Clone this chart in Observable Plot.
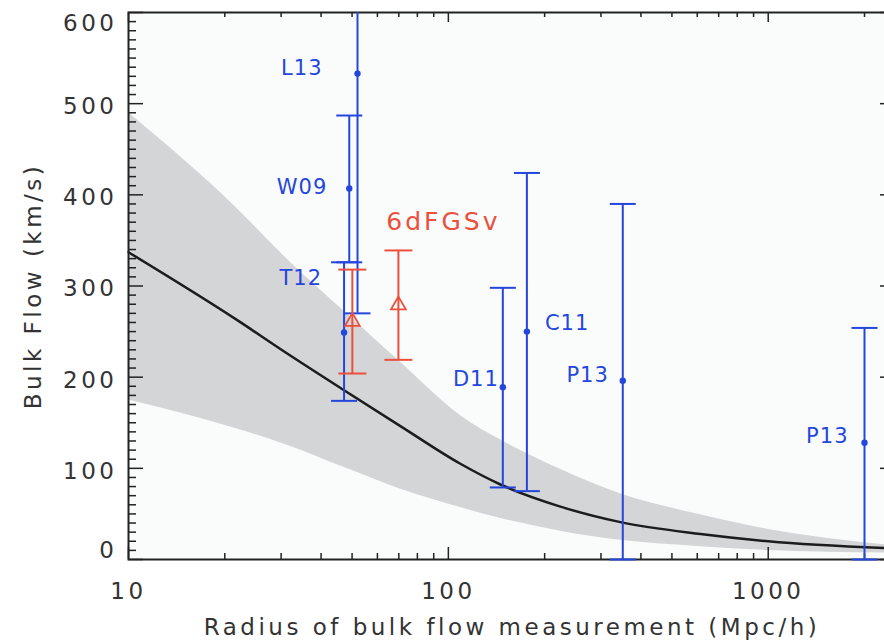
<!DOCTYPE html>
<html><head><meta charset="utf-8">
<script src="https://cdn.jsdelivr.net/npm/d3@7"></script>
<script src="https://cdn.jsdelivr.net/npm/@observablehq/plot@0.6"></script>
<style>
html,body{margin:0;padding:0;background:#fff;overflow:hidden;}
#chart svg{overflow:hidden;}
#chart g[font-size="23"] text{letter-spacing:3.5px;}
#chart g[font-size="21"] text{letter-spacing:1px;}
#chart g[font-size="25"] text{letter-spacing:3px;}
</style></head><body><div id="chart"></div>
<script>
// ΛCDM expectation (median and 1-sigma cosmic-variance band)
const bandR   = [10, 22, 31, 48, 71, 109, 146, 224, 345, 614, 1000, 2500];
const bandLo  = [175, 143, 126, 100, 77, 57, 45, 31, 21, 14, 10, 7];
const bandMid = [337, 262, 227, 184, 146, 105, 82, 58, 41, 28, 20, 12];
const bandHi  = [490, 384, 331, 270, 216, 158, 131, 99, 72, 49, 33, 15];

// literature bulk-flow measurements
const litName = ["L13", "W09", "T12", "D11", "C11", "P13", "P13"];
const litR    = [52, 49, 47.2, 148, 176, 351, 2000];
const litV    = [533, 407, 249, 189, 250, 196, 128];
const litLo   = [270, 326, 174, 79, 75, 0, 0];
const litHi   = [796, 487, 326, 298, 424, 390, 254];

// 6dFGSv measurements
const sixName = "6dFGSv";
const sixR  = [50.1, 69.8];
const sixV  = [261, 279];
const sixLo = [204, 219];
const sixHi = [318, 339];

// axes
const yTicks = [0, 100, 200, 300, 400, 500, 600];
const xTicks = [10, 100, 1000];
const xTitle = "Radius of bulk flow measurement (Mpc/h)";
const yTitle = "Bulk Flow (km/s)";

// ---- styles / layout ----
const BLUE = "#2446dc", RED = "#ec4f3c", INK = "#222";
const W = 884, H = 644, mL = 128, mR = -11, mT = 12, mB = 85;
const fw = W - mL - mR, fh = H - mT - mB;
// label offsets (px) per literature label, in litName order
const labelStyle = [
  {dx: -35, dy: -5, anchor: "end"},
  {dx: -22, dy: -1, anchor: "end"},
  {dx: -22, dy: -54, anchor: "end"},
  {dx: -4, dy: -8, anchor: "end"},
  {dx: 18, dy: -8, anchor: "start"},
  {dx: -14, dy: -6, anchor: "end"},
  {dx: -16, dy: -7, anchor: "end"}
];

const band = bandR.map((r, i) => ({r, lo: bandLo[i], mid: bandMid[i], hi: bandHi[i]}));
const lit = litName.map((name, i) => ({name, r: litR[i], v: litV[i], lo: litLo[i], hi: litHi[i]}));
const six = sixR.map((r, i) => ({r, v: sixV[i], lo: sixLo[i], hi: sixHi[i]}));
const litCaps = lit.flatMap(d => [{r: d.r, v: d.lo}, {r: d.r, v: d.hi}]);
const sixCaps = six.flatMap(d => [{r: d.r, v: d.lo}, {r: d.r, v: d.hi}]);

const yMinor = d3.range(0, 601, 10).filter(v => v % 100 !== 0);
const xMinor = [];
for (const dec of [10, 100, 1000]) for (let k = 2; k <= 9; k++) if (dec * k <= 2500) xMinor.push(dec * k);

const capSymbol = {draw(ctx, size) { const w = Math.sqrt(size / Math.PI); ctx.moveTo(-w, 0); ctx.lineTo(w, 0); }};

const FONT = "DejaVu Sans";
const yAxisOpts = {tickSize: 0, tickPadding: 11, fontSize: 23, label: null, color: "#333"};

const chart = Plot.plot({
  width: W, height: H,
  marginLeft: mL, marginRight: mR, marginTop: mT, marginBottom: mB,
  style: {fontFamily: FONT, background: "#fff"},
  x: {type: "log", domain: [10, 2500]},
  y: {type: "linear", domain: [0, 600]},
  marks: [
    Plot.frame({fill: "#fafcfc", stroke: "none"}),
    Plot.areaY(band, {x: "r", y1: "lo", y2: "hi", fill: "#d3d5d7", curve: "monotone-x"}),
    Plot.line(band, {x: "r", y: "mid", stroke: "#1c1c1c", strokeWidth: 2.5, curve: "monotone-x"}),
    // ticks (inward, IDL style)
    Plot.ruleY(yTicks, {y: d => d, insetRight: fw - 15, stroke: INK, strokeWidth: 1.5}),
    Plot.ruleY(yMinor, {y: d => d, insetRight: fw - 8, stroke: INK, strokeWidth: 1.5}),
    Plot.ruleY(yTicks, {y: d => d, insetLeft: fw - 15, stroke: INK, strokeWidth: 1.5}),
    Plot.ruleX(xTicks, {x: d => d, insetTop: fh - 12, stroke: INK, strokeWidth: 1.5}),
    Plot.ruleX(xMinor, {x: d => d, insetTop: fh - 6, stroke: INK, strokeWidth: 1.5}),
    Plot.ruleX(xTicks, {x: d => d, insetBottom: fh - 10, stroke: INK, strokeWidth: 1.5}),
    Plot.ruleX(xMinor, {x: d => d, insetBottom: fh - 5, stroke: INK, strokeWidth: 1.5}),
    Plot.frame({stroke: INK, strokeWidth: 2}),
    // error bars
    Plot.ruleX(lit, {x: "r", y1: "lo", y2: "hi", stroke: BLUE, strokeWidth: 2, clip: true}),
    Plot.dot(litCaps, {x: "r", y: "v", symbol: capSymbol, r: 13, stroke: BLUE, strokeWidth: 2, fill: "none"}),
    Plot.dot(lit, {x: "r", y: "v", r: 3.2, fill: BLUE}),
    Plot.ruleX(six, {x: "r", y1: "lo", y2: "hi", stroke: RED, strokeWidth: 2}),
    Plot.dot(sixCaps, {x: "r", y: "v", symbol: capSymbol, r: 14, stroke: RED, strokeWidth: 2, fill: "none"}),
    Plot.dot(six, {x: "r", y: "v", symbol: "triangle", r: 5.5, stroke: RED, strokeWidth: 1.8, fill: "none"}),
    // labels
    ...lit.map((d, i) => Plot.text([d], {x: "r", y: "v", text: "name", dx: labelStyle[i].dx, dy: labelStyle[i].dy,
      textAnchor: labelStyle[i].anchor, fill: BLUE, fontSize: 21, fontFamily: FONT})),
    Plot.text([six[1]], {x: "r", y: "v", text: () => sixName, dx: 45, dy: -83, fill: RED, fontSize: 25, fontFamily: FONT}),
    // axes (IDL-style label nudges at the ends)
    Plot.axisY([600], {...yAxisOpts, dy: 11}),
    Plot.axisY([100, 200, 300, 400, 500], {...yAxisOpts, dy: 3}),
    Plot.axisY([0], {...yAxisOpts, dy: -9}),
    Plot.axisX({ticks: xTicks, tickSize: 0, tickPadding: 23, tickFormat: d => String(d), fontSize: 23, label: null, color: "#333"}),
    Plot.text([xTitle], {frameAnchor: "bottom", lineAnchor: "middle", textAnchor: "middle", dy: 68, fontSize: 23, fill: "#333"}),
    Plot.text([yTitle], {frameAnchor: "left", textAnchor: "middle", lineAnchor: "middle", rotate: -90, dx: -95, fontSize: 23, fill: "#333"})
  ]
});
document.getElementById("chart").appendChild(chart);
</script></body></html>
